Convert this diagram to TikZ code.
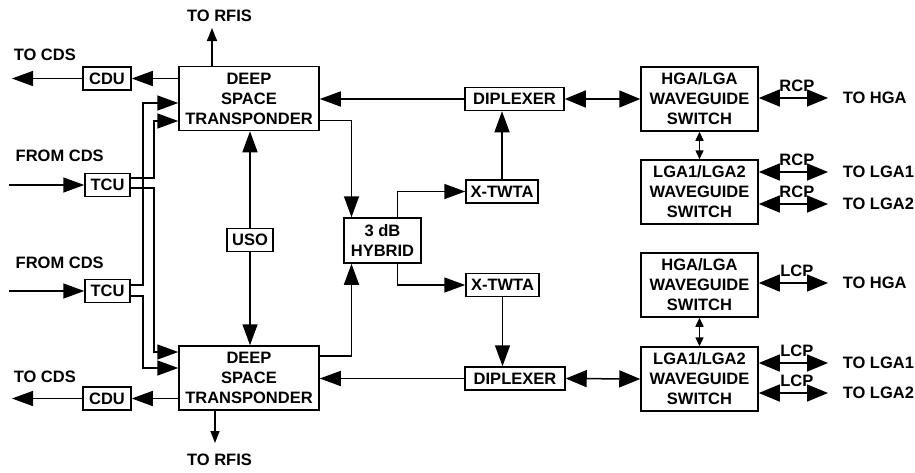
\documentclass[tikz,border=0pt]{standalone}
\usepackage{fontspec}
\setmainfont{Liberation Sans}
\usetikzlibrary{arrows.meta, positioning, calc}

\begin{document}
\begin{tikzpicture}[x=1pt, y=-1pt, line width=1.5pt,
    every node/.style={font=\fontsize{16.5}{20}\selectfont\bfseries, inner sep=0pt, align=center},
    blk/.style={draw, minimum height=23pt, minimum width=#1},
    bigblk/.style={draw, minimum height=64pt, minimum width=#1},
    arr/.style={-{Triangle[length=21pt, width=15pt]}},
    darr/.style={{Triangle[length=21pt, width=17pt]}-{Triangle[length=21pt, width=17pt]}},
    sarr/.style={-{Triangle[length=12pt, width=9pt]}},
    sdarr/.style={{Triangle[length=9pt, width=8pt]}-{Triangle[length=9pt, width=8pt]}}]
    \useasboundingbox (0,0) rectangle (915,472);

    % Transponders
    \node[bigblk=140] (dsta) at (249,98.5) {DEEP\\SPACE\\TRANSPONDER};
    \node[bigblk=140] (dstb) at (249,378) {DEEP\\SPACE\\TRANSPONDER};
    \node[blk=46] (uso) at (250,240) {USO};

    \node[blk=48] (cdua) at (107,78.5) {CDU};
    \node[blk=48] (cdub) at (107,398.5) {CDU};
    \node[blk=45] (tcua) at (107.5,185) {TCU};
    \node[blk=45] (tcub) at (107.5,291) {TCU};

    \node[anchor=west] (tocdsa) at (13,55) {TO CDS};
    \node[anchor=west] (tocdsb) at (13,377) {TO CDS};
    \node[anchor=west] (fromcdsa) at (15,156) {FROM CDS};
    \node[anchor=west] (fromcdsb) at (15,263) {FROM CDS};
    \node (torfisa) at (219.5,16) {TO RFIS};
    \node (torfisb) at (219.5,460) {TO RFIS};

    \coordinate (cdsouta) at (12,78.5);
    \coordinate (cdsoutb) at (12,398.5);
    \coordinate (cdsina) at (9,185);
    \coordinate (cdsinb) at (9,291);
    \coordinate (rfisa) at (212,28);
    \coordinate (rfisb) at (215,443);

    \draw[arr] (dsta.west |- cdua.east) -- (cdua.east);
    \draw[arr] (cdua.west) -- (cdsouta);
    \draw[arr] (dstb.west |- cdub.east) -- (cdub.east);
    \draw[arr] (cdub.west) -- (cdsoutb);
    \draw[arr] (cdsina) -- (tcua.west);
    \draw[arr] (cdsinb) -- (tcub.west);
    \draw[-{Triangle[length=13pt, width=10pt]}] (dsta.north -| rfisa) -- (rfisa);
    \draw[sarr] (dstb.south -| rfisb) -- (rfisb);

    % TCU -> transponders
    \draw[arr] ([yshift=7pt]tcua.east) -| (154,121) -- ([yshift=-22.5pt]dsta.west);
    \draw[arr] ([yshift=-3pt]tcua.east) -| (154,352) -- ([yshift=26pt]dstb.west);
    \draw[arr] ([yshift=6pt]tcub.east) -| (143,103) -- ([yshift=-4.5pt]dsta.west);
    \draw[arr] ([yshift=-5pt]tcub.east) -| (143,368) -- ([yshift=10pt]dstb.west);

    \draw[arr] (uso.north) -- (uso.north |- dsta.south);
    \draw[arr] (uso.south) -- (uso.south |- dstb.north);

    % Hybrid, TWTA, diplexer
    \node[draw, minimum width=77pt, minimum height=45pt] (hyb) at (382.5,240.5) {3 dB\\HYBRID};
    \node[blk=72] (twa) at (502,191.5) {X-TWTA};
    \node[blk=73] (twb) at (502.5,285) {X-TWTA};
    \node[blk=99] (dipa) at (514.5,99) {DIPLEXER};
    \node[blk=100] (dipb) at (515,378.5) {DIPLEXER};

    \draw[arr] ([yshift=-22pt]dsta.east) -| ([xshift=-31pt]hyb.north);
    \draw[arr] ([yshift=22pt]dstb.east) -| ([xshift=-31pt]hyb.south);
    \draw[arr] ([xshift=15pt]hyb.north) |- (twa.west);
    \draw[arr] ([xshift=15pt]hyb.south) |- (twb.west);
    \draw[arr] (twa.north) -- (twa.north |- dipa.south);
    \draw[arr] (twb.south) -- (twb.south |- dipb.north);
    \draw[arr] (dipa.west) -- (dipa.west -| dsta.east);
    \draw[arr] (dipb.west) -- (dipb.west -| dstb.east);

    % Waveguide switches
    \node[bigblk=117] (swa1) at (699.5,99) {HGA/LGA\\WAVEGUIDE\\SWITCH};
    \node[bigblk=117] (swa2) at (699.5,192) {LGA1/LGA2\\WAVEGUIDE\\SWITCH};
    \node[bigblk=117] (swb1) at (699.5,285) {HGA/LGA\\WAVEGUIDE\\SWITCH};
    \node[bigblk=117] (swb2) at (699.5,379) {LGA1/LGA2\\WAVEGUIDE\\SWITCH};

    \draw[darr] (dipa.east) -- (swa1.west);
    \draw[darr] (dipb.east) -- (swb2.west);
    \draw[sdarr] (swa1.south) -- (swa2.north);
    \draw[sdarr] (swb1.south) -- (swb2.north);

    \foreach \n/\sw/\y/\pol/\ant in {1/swa1/98/RCP/HGA, 2/swa2/172/RCP/LGA1, 3/swa2/204/RCP/LGA2,
                                     4/swb1/283/LCP/HGA, 5/swb2/363/LCP/LGA1, 6/swb2/393/LCP/LGA2} {
        \coordinate (ant\n) at (828,\y);
        \draw[darr] (\sw.east |- ant\n) -- (ant\n);
        \node[above=6pt] (pol\n) at ($(\sw.east |- ant\n)!0.55!(ant\n)$) {\pol};
        \node[anchor=west] (to\n) at (842,\y) {TO \ant};
    }
\end{tikzpicture}
\end{document}
